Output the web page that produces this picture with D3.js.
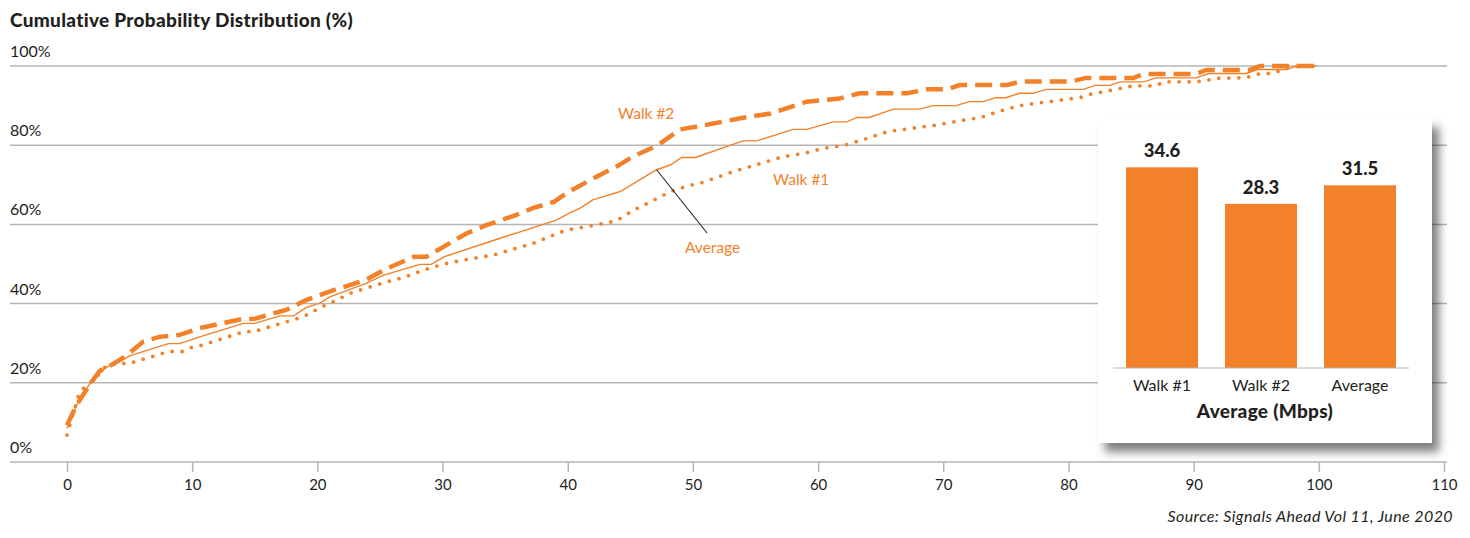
<!DOCTYPE html>
<html>
<head>
<meta charset="utf-8">
<script src="https://cdn.jsdelivr.net/npm/d3@7"></script>
<style>
  html, body { margin: 0; padding: 0; background: #ffffff; }
  svg { display: block; font-family: Lato, "Open Sans", sans-serif; }
</style>
</head>
<body>
<svg id="chart" width="1470" height="538"></svg>
<script>
// Cumulative distribution of download speed (Mbps -> % of samples), per walk test
const walk1 = [[0,6.8],[0.96,17.3],[1.5,19.2],[2.2,20.9],[3.1,24.2],[4.1,24.9],[5,24.9],[5.9,25.8],[6.8,26.6],[7.6,27.4],[8.4,27.9],[9.2,27.9],[10,29],[10.8,29.5],[14.1,32.9],[14.9,32.9],[17.3,35.2],[18.2,36],[19,36.9],[20.5,39.4],[21.3,40.5],[22.6,42.6],[25.3,45.3],[26.9,46.6],[28.5,48.5],[30.1,50],[31.7,51],[34.1,52.3],[37.2,55.2],[39.9,58.6],[41.5,59.4],[43.9,60.9],[45.2,63.5],[46.8,66],[48.2,68.3],[49.8,69.9],[50.6,70.4],[53.2,73.3],[55.4,75.4],[57.2,77.1],[58.8,77.9],[60.4,79.2],[62.1,80],[63.9,81.7],[65.5,83.4],[67.1,84.1],[69.5,85.1],[71.2,86.1],[73,87],[74.5,88.6],[76.1,90],[77.7,90.7],[79.4,91.4],[81,92.1],[81.8,92.9],[83.6,94],[85.2,95],[86.9,95],[87.7,96],[90.2,96],[92,96.9],[93.6,97],[94.5,97.3],[95.3,98.1],[96.1,98.1],[96.9,98.8],[97.7,99.8],[98.5,100],[99.8,100]];

const walk2 = [[0,9.3],[0.77,14.4],[1.7,19],[2.6,23],[3.4,24.2],[4.8,27],[6.1,30.4],[7.4,31.6],[9,32.1],[10.6,33.8],[13.8,36],[15,36.2],[17.5,38.4],[19.1,40.9],[21.3,43.4],[23.9,46],[25.3,48.5],[27.7,51.8],[28.7,51.8],[30.1,54.4],[31.9,57.7],[33.5,59.8],[35.9,62.4],[37.2,64.1],[38.9,65.7],[39.9,67.9],[41.8,71.2],[43.9,74.6],[45.2,77.1],[47.2,80],[49,84],[51,85.1],[53.8,86.8],[56.2,88],[59.1,91],[61.7,91.8],[63.3,93.1],[67.1,93.1],[68.7,94.1],[70.3,94.1],[71.3,95.2],[75.1,95.2],[76.2,96.1],[80.2,96.1],[81.4,97],[85.2,97],[86,98],[90.2,98],[91,99],[94.5,99],[95.3,100],[99.8,100]];

const average = [[0,8.5],[0.8,14.5],[1.6,18.8],[2.4,22],[3.2,24],[4.2,25.3],[5,26.8],[8.1,29.9],[9,29.9],[10.6,31.6],[14.1,35],[15,35],[17,36.9],[18.1,36.9],[19.1,39],[20.2,40.1],[21,41.7],[23.9,45.1],[25.3,47.2],[28.2,49.9],[29.1,49.9],[30.1,51.8],[34.6,56.5],[39.1,61.1],[40.2,63],[41,64.1],[42,66.2],[44.2,68.3],[47.1,73.8],[48.2,75],[49.1,76.9],[50.2,76.9],[54,81.1],[55.1,81.1],[58,84],[59.1,84],[61.2,85.9],[62.3,85.9],[63.1,87],[64.1,87],[66,89.1],[68.1,89.1],[69.2,90],[71,90],[72.1,91],[73.2,91],[74.2,92],[75,92],[76.1,93.1],[77.2,93.1],[78.2,94.1],[81.2,94.1],[82.1,95.1],[83.3,95.1],[84.1,96],[86,96],[87,97],[90.2,97],[91.2,98.1],[94.2,98.1],[95.1,99.1],[97.4,99.1],[98.2,100],[99.8,100]];

const xTicks = [0,10,20,30,40,50,60,70,80,90,100,110];
const yTicks = [0,20,40,60,80,100];

// Inset: average speed per walk
const barCategories = ["Walk #1","Walk #2","Average"];
const barValues = [34.6, 28.3, 31.5];

const ORANGE = "#f2812a";
const TEXT = "#231f20";
const GRID = "#b5b5b5";

const svg = d3.select("#chart");

const defs = svg.append("defs");
const shadow = defs.append("filter").attr("id","boxShadow")
  .attr("x","-10%").attr("y","-10%").attr("width","130%").attr("height","130%");
shadow.append("feDropShadow").attr("dx",7).attr("dy",9).attr("stdDeviation",5)
  .attr("flood-color","#000").attr("flood-opacity",0.5);

const x = d3.scaleLinear().domain([0,110]).range([67,1444]);
const y = d3.scaleLinear().domain([0,100]).range([462,66]);

// title
svg.append("text").attr("x",10).attr("y",27)
  .attr("font-size",19).attr("font-weight",900).attr("letter-spacing",0.3).attr("fill",TEXT)
  .text("Cumulative Probability Distribution (%)");

// horizontal gridlines + y labels
const grid = svg.append("g");
grid.selectAll("line").data(yTicks).join("line")
  .attr("x1",10).attr("x2",1447)
  .attr("y1",d=>y(d)).attr("y2",d=>y(d))
  .attr("stroke",GRID).attr("stroke-width",1.5);
grid.selectAll("text").data(yTicks).join("text")
  .attr("x",10).attr("y",d=>y(d)-9)
  .attr("font-size",16).attr("fill",TEXT)
  .text(d=>d+"%");

// x axis
const xAxis = svg.append("g").attr("transform",`translate(0,${y(0)})`)
  .call(d3.axisBottom(x).tickValues(xTicks).tickSize(10).tickFormat(d3.format("d")));
xAxis.select(".domain").remove();
xAxis.selectAll(".tick line").attr("stroke",GRID).attr("stroke-width",1.5);
xAxis.selectAll(".tick text").attr("y",28).attr("dy",0)
  .attr("font-size",15).attr("font-family","Lato, sans-serif").attr("fill",TEXT);

// CDF lines
const line = d3.line().x(d=>x(d[0])).y(d=>y(d[1]));
const lines = svg.append("g").attr("fill","none").attr("stroke",ORANGE);
lines.append("path").datum(walk1).attr("d",line)
  .attr("stroke-width",3.8).attr("stroke-linecap","round").attr("stroke-dasharray","0 10");
lines.append("path").datum(walk2).attr("d",line)
  .attr("stroke-width",4.5).attr("stroke-dasharray","17 8");
lines.append("path").datum(average).attr("d",line)
  .attr("stroke-width",1.4);

// series labels
svg.append("text").attr("x",618).attr("y",119).attr("font-size",15.5).attr("fill",ORANGE).text("Walk #2");
svg.append("text").attr("x",773).attr("y",185).attr("font-size",15.5).attr("fill",ORANGE).text("Walk #1");
svg.append("text").attr("x",685).attr("y",253).attr("font-size",15.5).attr("fill",ORANGE).text("Average");
svg.append("line")
  .attr("x1",x(47.1)).attr("y1",y(73.8))
  .attr("x2",707).attr("y2",233)
  .attr("stroke","#222").attr("stroke-width",1.1);

// inset panel
const inset = svg.append("g");
inset.append("rect").attr("x",1098).attr("y",118).attr("width",334).attr("height",325)
  .attr("fill","#fff").attr("filter","url(#boxShadow)");

const bx = d3.scaleBand().domain(barCategories).range([1113,1409])
  .paddingInner(0.2727).paddingOuter(0.131);
const by = d3.scaleLinear().domain([0,40]).range([368,136]);

inset.selectAll("rect.bar").data(barValues).join("rect").attr("class","bar")
  .attr("x",(d,i)=>bx(barCategories[i])).attr("width",bx.bandwidth())
  .attr("y",d=>by(d)).attr("height",d=>by(0)-by(d))
  .attr("fill",ORANGE);
inset.append("line").attr("x1",1113).attr("x2",1409).attr("y1",by(0)).attr("y2",by(0))
  .attr("stroke",GRID).attr("stroke-width",1.2);
inset.selectAll("text.val").data(barValues).join("text").attr("class","val")
  .attr("x",(d,i)=>bx(barCategories[i])+bx.bandwidth()/2).attr("y",d=>by(d)-10)
  .attr("text-anchor","middle").attr("font-size",18.5).attr("font-weight",900).attr("fill",TEXT)
  .text(d=>d3.format(".1f")(d));
inset.selectAll("text.cat").data(barCategories).join("text").attr("class","cat")
  .attr("x",d=>bx(d)+bx.bandwidth()/2).attr("y",391)
  .attr("text-anchor","middle").attr("font-size",16).attr("fill",TEXT)
  .text(d=>d);
inset.append("text").attr("x",1265).attr("y",418).attr("text-anchor","middle")
  .attr("font-size",19).attr("font-weight",900).attr("letter-spacing",0.3).attr("fill",TEXT).text("Average (Mbps)");

// source note
svg.append("text").attr("x",1453).attr("y",522).attr("text-anchor","end")
  .attr("font-size",16).attr("font-style","italic").attr("letter-spacing",0.4).attr("fill",TEXT)
  .text("Source: Signals Ahead Vol 11, June 2020");
</script>
</body>
</html>
